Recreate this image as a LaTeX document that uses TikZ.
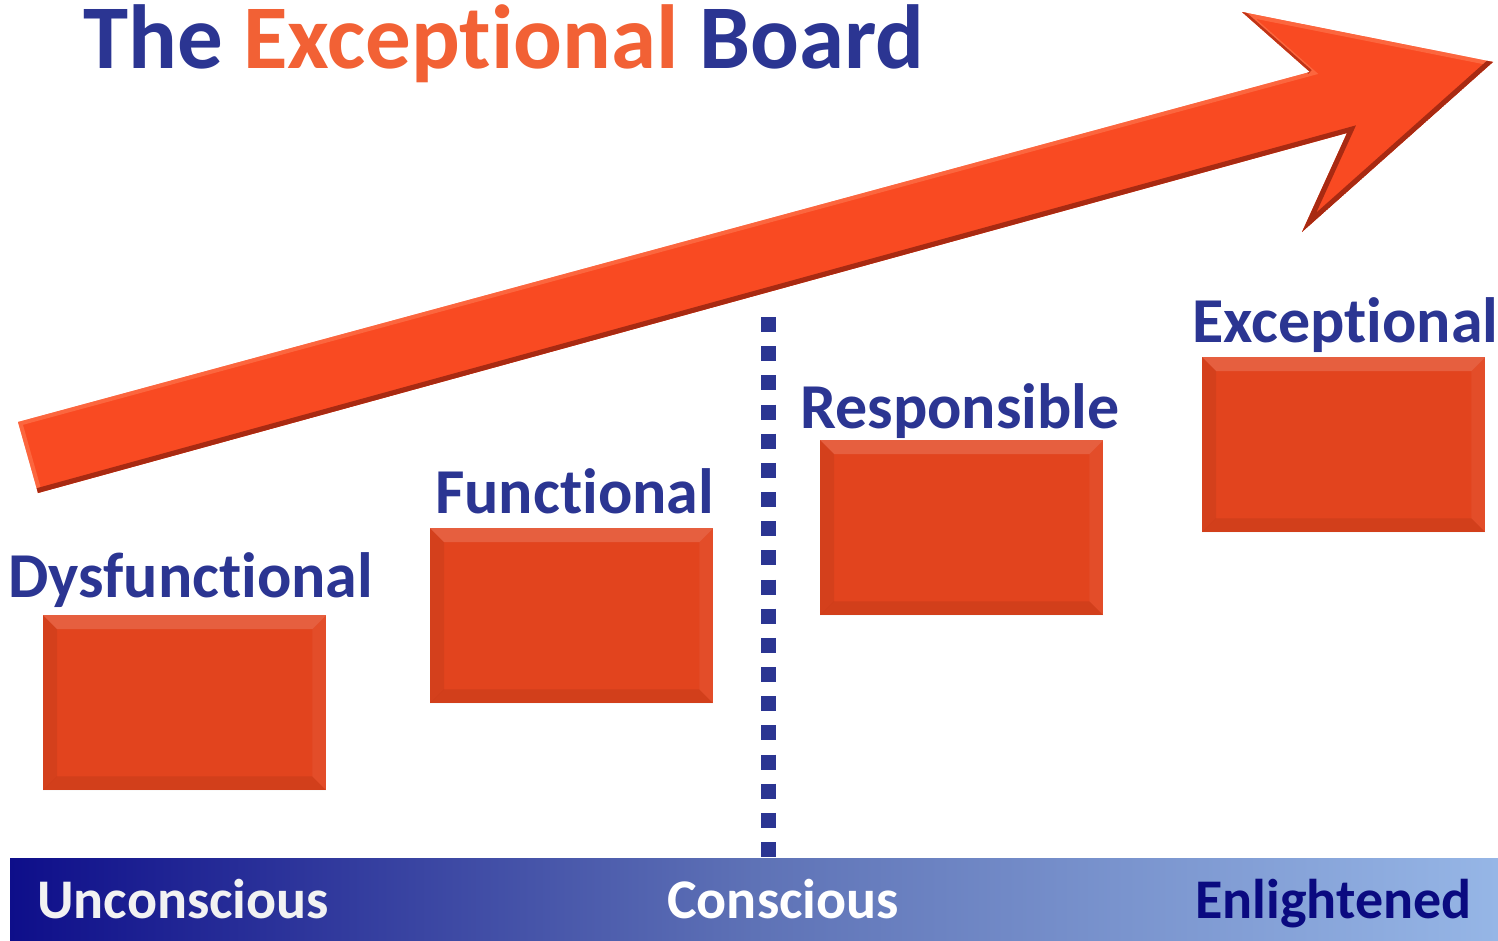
\documentclass[tikz,border=0pt]{standalone}
\usepackage{fontspec}
\setmainfont{Carlito}[Ligatures=CommonOff]
\usetikzlibrary{calc}
\newcommand{\tiNL}{t\kern0pt i}
\definecolor{navy}{HTML}{2B3592}
\definecolor{titleorange}{HTML}{F26135}
\definecolor{arroworange}{HTML}{F94A22}
\definecolor{arrowdark}{HTML}{A82A12}
\definecolor{arrowlight}{HTML}{FF7A52}
\definecolor{boxorange}{HTML}{E2441E}
\definecolor{bardark}{HTML}{0E0E8A}
\definecolor{barmid}{HTML}{5E72B6}
\definecolor{barlight}{HTML}{96B6E6}
\definecolor{enl}{HTML}{0A0A80}
\tikzset{
  lbl/.style={anchor=base west, inner sep=0pt, text=navy, font=\fontsize{64}{64}\selectfont\bfseries},
  bartext/.style={anchor=base west, inner sep=0pt, font=\fontsize{56}{56}\selectfont\bfseries},
  stagebox/.style={rectangle, inner sep=0pt, minimum width=283pt, minimum height=175pt, fill=boxorange},
}
\begin{document}
\begin{tikzpicture}[x=1pt,y=-1pt]
\useasboundingbox (0,0) rectangle (1498,940);
% title
\node[anchor=base west, inner sep=0pt, font=\fontsize{91}{91}\selectfont\bfseries] (title) at (83,68)
  {\textcolor{navy}{The} \textcolor{titleorange}{Excep\tiNL onal} \textcolor{navy}{Board}};
% arrow
\coordinate (A) at (18,422);
\coordinate (B) at (1310,72);
\coordinate (C) at (1242,12);
\coordinate (D) at (1493,62);
\coordinate (E) at (1302,232);
\coordinate (F) at (1347,133);
\coordinate (G) at (38,493);
\begin{scope}
  \clip (A) -- (B) -- (C) -- (D) -- (E) -- (F) -- (G) -- cycle;
  \fill[arroworange] (A) -- (B) -- (C) -- (D) -- (E) -- (F) -- (G) -- cycle;
  \draw[arrowlight, line width=8pt, opacity=0.6] (G) -- (A) -- (B) -- (C) -- (D);
  \draw[arrowdark, line width=10pt] (D) -- (E) -- (F) -- (G);
  \draw[arrowdark!70!arroworange, line width=5pt] (B) -- (C);
\end{scope}
% boxes
\foreach \n/\x/\y in {b1/43/615, b2/430/528, b3/820/440, b4/1202/357}{
  \node[stagebox, anchor=north west] (\n) at (\x,\y) {};
  \fill[white, opacity=0.15] (\n.north west) -- (\n.north east) -- ($(\n.north east)+(-14,14)$) -- ($(\n.north west)+(14,14)$) -- cycle;
  \fill[black, opacity=0.06] (\n.north west) -- ($(\n.north west)+(14,14)$) -- ($(\n.south west)+(14,-14)$) -- (\n.south west) -- cycle;
  \fill[black, opacity=0.07] (\n.south west) -- ($(\n.south west)+(14,-14)$) -- ($(\n.south east)+(-14,-14)$) -- (\n.south east) -- cycle;
  \fill[white, opacity=0.05] (\n.north east) -- ($(\n.north east)+(-14,14)$) -- ($(\n.south east)+(-14,-14)$) -- (\n.south east) -- cycle;
}
% labels
\node[lbl] (l1) at (8,597) {Dysfunc\tiNL onal};
\node[lbl] (l2) at (435,513) {Func\tiNL onal};
\node[lbl] (l3) at (800,428) {Responsible};
\node[lbl] (l4) at (1192,342) {Excep\tiNL onal};
% dotted divider
\coordinate (dtop) at (768.5,317);
\coordinate (dbot) at (768.5,858);
\draw[navy, line width=15pt, dash pattern=on 15pt off 14.17pt] (dtop) -- (dbot);
% bar
\node[rectangle, inner sep=0pt, anchor=north west, minimum width=1488pt, minimum height=82pt,
  left color=bardark, right color=barlight, middle color=barmid] (bar) at (10,858) {};
\node[bartext, text=white!95!black] (u) at (37,918) {Unconscious};
\node[bartext, text=white] (c) at (667,918) {Conscious};
\node[bartext, text=enl] (e) at (1195,918) {Enlightened};
\end{tikzpicture}
\end{document}
